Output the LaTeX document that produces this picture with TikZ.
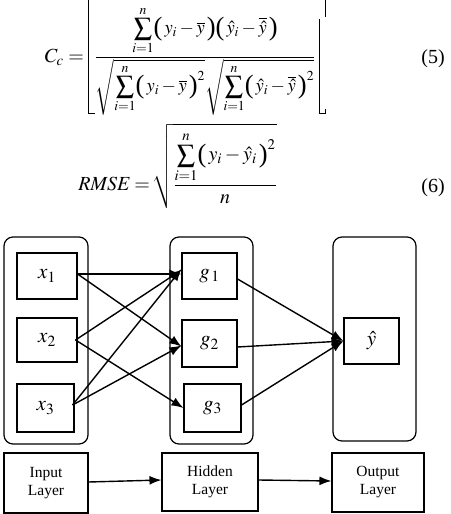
\documentclass[tikz,border=0pt]{standalone}
\usepackage{amsmath}
\usepackage{graphicx}
\usepackage{mathptmx}
\usepackage{fontspec}
\setmainfont{Liberation Serif}
\usetikzlibrary{arrows.meta}
\tikzset{
  cont/.style={draw, line width=1.2pt, rounded corners=9pt, minimum width=#1},
  nbox/.style={draw, line width=1.1pt, inner sep=0pt, font=\fontsize{21}{24}\selectfont},
  lbox/.style={draw, line width=1.1pt, inner sep=0pt, align=center, font=\fontsize{15.5}{18}\selectfont},
  conn/.style={line width=1.4pt, -{Latex[length=12pt,width=9pt]}},
  eq/.style={inner sep=0pt, font=\fontsize{20}{24}\selectfont},
  eqs/.style={inner sep=0pt, font=\fontsize{18.5}{22}\selectfont},
  brk/.style={line width=1pt},
}
\newcommand{\bsum}{\mathop{\vcenter{\hbox{\resizebox*{!}{22pt}{$\sum$}}}}\limits_{i=1}^{n}}
\newcommand{\lp}{\mathopen{\vcenter{\hbox{\resizebox*{!}{24pt}{(}}}}\,}
\newcommand{\rp}{\,\mathclose{\vcenter{\hbox{\resizebox*{!}{24pt}{)}}}}}
\begin{document}
\begin{tikzpicture}[x=1pt,y=-1pt]
\useasboundingbox (0,0) rectangle (450,514);
% Equation (5)
\node[eqs, anchor=base] (f5) at (205,61.5) {$\displaystyle \frac{\bsum\lp y_i-\overline{y}\rp\lp\hat{y}_i-\overline{\hat{y}}\rp}{\sqrt{\bsum\lp y_i-\overline{y}\rp^2}\sqrt{\bsum\lp\hat{y}_i-\overline{\hat{y}}\rp^2}}$};
\node[eq, anchor=base east] (cc) at (84,62) {$C_c=$};
\node[eq, anchor=base east] (n5) at (445,63) {(5)};
\draw[brk] (88,0) -- (88,113) -- (95,113);
\draw[brk] (325,0) -- (325,17);
\draw[brk] (319,19) -- (319,113) -- (325,113) -- (325,109);
% Equation (6)
\node[eq, anchor=base east] (rm) at (150,190) {$\mathit{RMSE}=$};
\node[eq, anchor=base west] (f6) at (152,190) {$\displaystyle \sqrt{\frac{\bsum\lp y_i-\hat{y}_i\rp^2}{n}}$};
\node[eq, anchor=base east] (n6) at (445,192) {(6)};
% containers
\node[cont=84pt, minimum height=207pt] (ci) at (46,340.5) {};
\node[cont=83pt, minimum height=207pt] (ch) at (211.5,340.5) {};
\node[cont=83pt, minimum height=204pt] (co) at (374.5,339) {};
% neurons
\node[nbox, minimum width=60pt, minimum height=46pt] (x1) at (47,276) {$x_1$};
\node[nbox, minimum width=60pt, minimum height=44pt] (x2) at (47,340) {$x_2$};
\node[nbox, minimum width=57pt, minimum height=48pt] (x3) at (45.5,408) {$x_3$};
\node[nbox, minimum width=55pt, minimum height=46pt] (g1) at (209.5,276) {$g_{\,1}$};
\node[nbox, minimum width=55pt, minimum height=47pt] (g2) at (209.5,343.5) {$g_2$};
\node[nbox, minimum width=57pt, minimum height=48pt] (g3) at (212.5,408) {$g_3$};
\node[nbox, minimum width=55pt, minimum height=46pt] (yh) at (371.5,341) {$\hat{y}$};
% layer labels
\node[lbox, minimum width=84pt, minimum height=60pt] (li) at (46,483) {Input\\Layer};
\node[lbox, minimum width=96pt, minimum height=58pt] (lh) at (210,482) {Hidden\\Layer};
\node[lbox, minimum width=92pt, minimum height=59pt] (lo) at (378,482.5) {Output\\Layer};
% connectors
\draw[conn] ([yshift=2pt]x1.east) -- ([yshift=2pt]g1.west);
\draw[conn] ([yshift=2pt]x1.east) -- ([yshift=-3pt]g2.west);
\draw[conn] ([xshift=-2pt]x2.east) -- ([yshift=6pt]g1.west);
\draw[conn] ([xshift=-2pt]x2.east) -- (g3.west);
\draw[conn] ([xshift=-2pt,yshift=3pt]x3.east) -- ([yshift=7pt]g1.west);
\draw[conn] ([xshift=-2pt,yshift=3pt]x3.east) -- ([yshift=-2pt]g2.west);
\draw[conn] ([yshift=-3pt]g1.east) -- (yh.west);
\draw[conn] ([yshift=-3.5pt]g2.east) -- (yh.west);
\draw[conn] ([yshift=3pt]g3.east) -- (yh.west);
\draw[conn] ([yshift=1pt]li.east) -- ([yshift=2pt]lh.west);
\draw[conn] ([yshift=2pt]lh.east) -- ([yshift=1.5pt]lo.west);
\end{tikzpicture}
\end{document}
